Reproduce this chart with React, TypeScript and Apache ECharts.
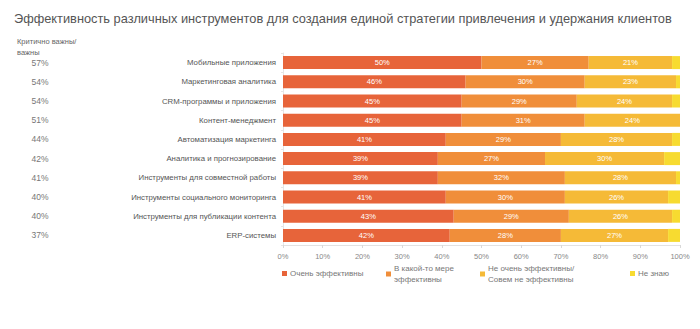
import React, { useEffect, useRef } from "react";
import * as echarts from "echarts";

const title =
  "Эффективность различных инструментов для создания единой стратегии привлечения и удержания клиентов";
const importanceHeader = "Критично важны/\nважны";

const categories = [
  "Мобильные приложения",
  "Маркетинговая аналитика",
  "CRM-программы и приложения",
  "Контент-менеджмент",
  "Автоматизация маркетинга",
  "Аналитика и прогнозирование",
  "Инструменты для совместной работы",
  "Инструменты социального мониторинга",
  "Инструменты для публикации контента",
  "ERP-системы",
];
const importance = [57, 54, 54, 51, 44, 42, 41, 40, 40, 37];

const seriesNames = [
  "Очень эффективны",
  "В какой-то мере\nэффективны",
  "Не очень эффективны/\nСовем не эффективны",
  "Не знаю",
];
const veryEffective = [50, 46, 45, 45, 41, 39, 39, 41, 43, 42];
const somewhatEffective = [27, 30, 29, 31, 29, 27, 32, 30, 29, 28];
const notEffective = [21, 23, 24, 24, 28, 30, 28, 26, 26, 27];
const dontKnow = [2, 1, 2, 1, 2, 4, 1, 3, 2, 3];

const xTicks = [0, 10, 20, 30, 40, 50, 60, 70, 80, 90, 100];

const colors = ["#E7643A", "#F08E3A", "#F5BA37", "#F7DB30"];
const FONT = "'Liberation Sans', Arial, sans-serif";

export default function App() {
  const ref = useRef<HTMLDivElement>(null);
  useEffect(() => {
    if (!ref.current) return;
    const chart = echarts.init(ref.current, undefined, { renderer: "svg" });
    const values = [veryEffective, somewhatEffective, notEffective, dontKnow];
    const legendLefts = [282, 386, 480, 630];
    chart.setOption({
      animation: false,
      backgroundColor: "#ffffff",
      textStyle: { fontFamily: FONT },
      title: {
        text: title,
        left: 9,
        top: 7,
        textStyle: { fontSize: 12.8, fontWeight: "normal", color: "#555555", fontFamily: FONT },
      },
      graphic: [
        {
          type: "text",
          left: 17,
          top: 36,
          style: {
            text: importanceHeader,
            fontSize: 7.5,
            lineHeight: 11,
            fill: "#666666",
            fontFamily: FONT,
          },
        },
      ],
      legend: seriesNames.map((n, i) => ({
        data: [n],
        left: legendLefts[i],
        top: i === 1 || i === 2 ? 263 : 268,
        padding: 0,
        icon: "rect",
        itemWidth: 5,
        itemHeight: 5,
        itemGap: 3,
        selectedMode: false,
        textStyle: { fontSize: 8, color: "#777777", fontFamily: FONT, lineHeight: 11, padding: [0, 0, 0, -2] },
      })),
      grid: { left: 283, right: 20, top: 53, bottom: 84, containLabel: false },
      xAxis: {
        type: "value",
        min: 0,
        max: 100,
        interval: 10,
        axisLine: { show: true, lineStyle: { color: "#e2e2e2" } },
        axisTick: { show: true, length: 3, lineStyle: { color: "#d8d8d8" } },
        splitLine: { show: false },
        axisLabel: {
          fontSize: 7.5,
          color: "#888888",
          margin: 7,
          formatter: (v: number) => (xTicks.includes(v) ? v + "%" : ""),
        },
      },
      yAxis: [
        {
          type: "category",
          data: categories,
          inverse: true,
          axisLine: { show: true, lineStyle: { color: "#e6e6e6" } },
          axisTick: { show: true, length: 2, lineStyle: { color: "#e6e6e6" } },
          axisLabel: { fontSize: 7.8, color: "#555555", margin: 7 },
        },
        {
          type: "category",
          data: importance.map((v) => v + "%"),
          inverse: true,
          position: "left",
          offset: 235,
          axisLine: { show: false },
          axisTick: { show: false },
          axisLabel: { fontSize: 8.5, color: "#777777", margin: 8, align: "center" },
        },
      ],
      series: seriesNames.map((n, i) => ({
        name: n,
        type: "bar",
        stack: "total",
        yAxisIndex: 0,
        data: values[i],
        barWidth: 13,
        itemStyle: { color: colors[i] },
        label: {
          show: i < 3,
          position: "inside",
          formatter: "{c}%",
          color: "#ffffff",
          fontSize: 7.5,
          fontFamily: FONT,
        },
      })),
    });
    return () => chart.dispose();
  }, []);
  return (
    <div
      ref={ref}
      style={{ position: "fixed", left: 0, top: 0, width: 700, height: 329 }}
    />
  );
}
